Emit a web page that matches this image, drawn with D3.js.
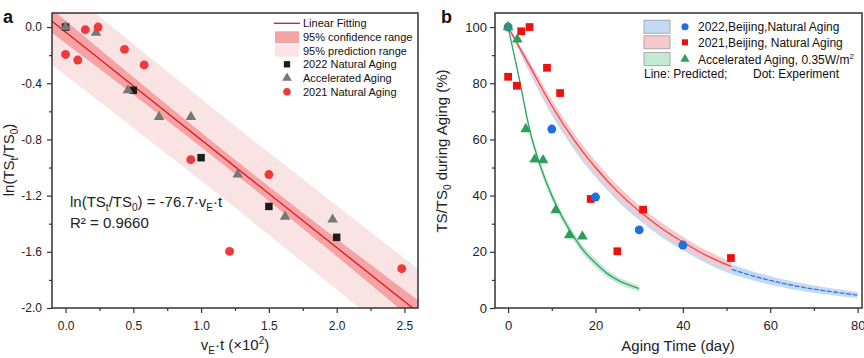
<!DOCTYPE html>
<html><head><meta charset="utf-8">
<script src="https://cdn.jsdelivr.net/npm/d3@7/dist/d3.min.js"></script>
<style>body{margin:0;background:#fff}svg{display:block;font-family:Arial,"Liberation Sans",sans-serif}</style>
</head><body><svg id="c" width="864" height="358"></svg>
<script>
// ---------- Panel a data ----------
const aXTicks = [0, 0.5, 1.0, 1.5, 2.0, 2.5];
const aXMinor = [0.25, 0.75, 1.25, 1.75, 2.25];
const aYTicks = [-2.0, -1.6, -1.2, -0.8, -0.4, 0.0];
const aYMinor = [-1.8, -1.4, -1.0, -0.6, -0.2];
const nat2022X = [0, 0.5, 1.0, 1.5, 2.0];
const nat2022Y = [0, -0.45, -0.93, -1.277, -1.497];
const accX = [0, 0.225, 0.46, 0.69, 0.925, 1.27, 1.62, 1.97];
const accY = [0, -0.04, -0.45, -0.64, -0.64, -1.05, -1.35, -1.37];
const nat2021X = [0, 0.09, 0.146, 0.24, 0.435, 0.58, 0.924, 1.21, 1.5, 2.48];
const nat2021Y = [-0.195, -0.235, -0.019, 0, -0.159, -0.27, -0.944, -1.597, -1.05, -1.72];
const fitX = [-0.1, 2.6];
const fitY = [0.042, -2.03];
const bandX = [-0.1, 0.4, 0.8, 1.25, 1.7, 2.1, 2.6];
const confHalf = [0.085, 0.065, 0.055, 0.05, 0.055, 0.065, 0.085];
const predHalf = [0.31, 0.3, 0.295, 0.29, 0.295, 0.3, 0.31];
const aLegend = ["Linear Fitting", "95% confidence range", "95% prediction range", "2022 Natural Aging", "Accelerated Aging", "2021 Natural Aging"];

// ---------- Panel b data ----------
const bXTicks = [0, 20, 40, 60, 80];
const bXMinor = [10, 30, 50, 70];
const bYTicks = [0, 20, 40, 60, 80, 100];
const bYMinor = [10, 30, 50, 70, 90];
const blueDotT = [0, 10, 20, 30, 40];
const blueDotV = [100, 63.7, 39.5, 27.8, 22.4];
const redDotT = [0, 2, 3, 4.9, 8.9, 11.9, 18.9, 25, 30.9, 51];
const redDotV = [82.3, 79.1, 98.5, 100, 85.5, 76.5, 38.8, 20.2, 35, 17.8];
const greenDotT = [0, 2.1, 4.05, 6.1, 8.0, 10.9, 14, 17];
const greenDotV = [100, 95.6, 63.7, 52.9, 52.6, 34.8, 25.9, 25.5];
const blueLineT = [0, 5, 10, 15, 20, 25, 30, 35, 40, 45, 50, 55, 60, 65, 70, 75, 80];
const blueLineV = [100, 85.5, 71.3, 59.3, 49.3, 40.8, 33.8, 27.8, 22.8, 18.3, 14.5, 11.9, 9.8, 8.1, 6.7, 5.6, 4.6];
const blueBand  = [0, 2, 2.6, 2.7, 2.7, 2.6, 2.5, 2.4, 2.2, 2, 1.8, 1.6, 1.5, 1.4, 1.3, 1.2, 1.1];
const redLineT = [0, 5, 10, 15, 20, 25, 30, 35, 40, 45, 51];
const redLineV = [100, 86, 72, 60, 50, 41.5, 34.5, 28.5, 23.5, 19, 14.8];
const redBand  = [0, 1.6, 2.1, 2.3, 2.3, 2.2, 2.1, 2, 1.9, 1.8, 1.7];
const greenLineT = [0, 2.5, 5, 7.5, 10, 12.5, 15, 17.5, 20, 22.5, 25, 27.5, 30];
const greenLineV = [100, 82, 63, 50, 40, 32, 25.5, 20, 16, 12.5, 10, 8.3, 6.9];
const greenBand  = [0, 1, 1.3, 1.5, 1.5, 1.5, 1.5, 1.5, 1.4, 1.3, 1.2, 1.1, 1];

const svg = d3.select("#c");
svg.append("rect").attr("width", 864).attr("height", 358).attr("fill", "#fff");
const axisCol = "#333";

function drawAxes(g, x, y, xt, xm, yt, ym, fmtX, fmtY, fs, padY) {
  const [x0, x1] = x.range(), [y0, y1] = y.range();
  g.append("g").attr("transform", `translate(0,${y0})`)
    .call(d3.axisBottom(x).tickValues(xm).tickSize(3).tickFormat(""))
    .call(s => s.select(".domain").remove());
  g.append("g").attr("transform", `translate(${x0},0)`)
    .call(d3.axisLeft(y).tickValues(ym).tickSize(3).tickFormat(""))
    .call(s => s.select(".domain").remove());
  const ax = g.append("g").attr("transform", `translate(0,${y0})`)
    .call(d3.axisBottom(x).tickValues(xt).tickSize(5).tickPadding(8).tickFormat(fmtX));
  const ay = g.append("g").attr("transform", `translate(${x0},0)`)
    .call(d3.axisLeft(y).tickValues(yt).tickSize(5).tickPadding(padY).tickFormat(fmtY));
  [ax, ay].forEach(a => {
    a.select(".domain").remove();
    a.selectAll("text").attr("font-size", fs).attr("fill", "#222").attr("font-family", "Arial, 'Liberation Sans', sans-serif");
  });
  g.selectAll(".tick line").attr("stroke", axisCol).attr("stroke-width", 1.2);
  g.append("rect").attr("x", x0).attr("y", y1).attr("width", x1 - x0).attr("height", y0 - y1)
    .attr("fill", "none").attr("stroke", axisCol).attr("stroke-width", 1.5);
}

// ================= Panel a =================
const xA = d3.scaleLinear().domain([-0.1, 2.6]).range([52, 418]);
const yA = d3.scaleLinear().domain([-2.0, 0.1]).range([308, 13]);
const fitAt = d3.scaleLinear().domain(fitX).range(fitY);
const gA = svg.append("g");
svg.append("clipPath").attr("id", "clipA").append("rect")
  .attr("x", 52).attr("y", 13).attr("width", 366).attr("height", 295);
const bandsA = gA.append("g").attr("clip-path", "url(#clipA)");
const idxA = d3.range(bandX.length);
bandsA.append("path")
  .attr("d", d3.area().curve(d3.curveMonotoneX)
    .x(i => xA(bandX[i])).y0(i => yA(fitAt(bandX[i]) - predHalf[i])).y1(i => yA(fitAt(bandX[i]) + predHalf[i]))(idxA))
  .attr("fill", "#f9e3e3");
bandsA.append("path")
  .attr("d", d3.area().curve(d3.curveMonotoneX)
    .x(i => xA(bandX[i])).y0(i => yA(fitAt(bandX[i]) - confHalf[i])).y1(i => yA(fitAt(bandX[i]) + confHalf[i]))(idxA))
  .attr("fill", "#f6a3a6");
bandsA.append("line")
  .attr("x1", xA(fitX[0])).attr("y1", yA(fitY[0]))
  .attr("x2", xA(fitX[1])).attr("y2", yA(fitY[1]))
  .attr("stroke", "#e0161e").attr("stroke-width", 1.3);

drawAxes(gA, xA, yA, aXTicks, aXMinor, aYTicks, aYMinor, d => d.toFixed(1), d => d.toFixed(1), 12, 5);

const sym = (type, size) => d3.symbol().type(type).size(size)();
gA.selectAll(".sq").data(d3.range(nat2022X.length)).join("path")
  .attr("transform", i => `translate(${xA(nat2022X[i])},${yA(nat2022Y[i])})`)
  .attr("d", sym(d3.symbolSquare, 56)).attr("fill", "#1c1c1c");
gA.selectAll(".tr").data(d3.range(accX.length)).join("path")
  .attr("transform", i => `translate(${xA(accX[i])},${yA(accY[i])})`)
  .attr("d", sym(d3.symbolTriangle, 48)).attr("fill", "#777");
gA.selectAll(".ci").data(d3.range(nat2021X.length)).join("path")
  .attr("transform", i => `translate(${xA(nat2021X[i])},${yA(nat2021Y[i])})`)
  .attr("d", sym(d3.symbolCircle, 62)).attr("fill", "#f0393b");

// legend a
const legA = gA.append("g").attr("font-size", 11).attr("fill", "#111");
const rowA = [23.3, 37.3, 50.7, 64.3, 78, 91.7];
legA.append("line").attr("x1", 274).attr("x2", 300).attr("y1", rowA[0]).attr("y2", rowA[0]).attr("stroke", "#e0161e").attr("stroke-width", 1.3);
legA.append("rect").attr("x", 275).attr("y", rowA[1] - 6).attr("width", 24).attr("height", 12).attr("fill", "#f6a3a6");
legA.append("rect").attr("x", 275).attr("y", rowA[2] - 6).attr("width", 24).attr("height", 12).attr("fill", "#f9e3e3");
legA.append("path").attr("transform", `translate(287,${rowA[3]})`).attr("d", sym(d3.symbolSquare, 40)).attr("fill", "#1c1c1c");
legA.append("path").attr("transform", `translate(287,${rowA[4]})`).attr("d", sym(d3.symbolTriangle, 40)).attr("fill", "#777");
legA.append("path").attr("transform", `translate(287,${rowA[5]})`).attr("d", sym(d3.symbolCircle, 45)).attr("fill", "#f0393b");
aLegend.forEach((t, i) => legA.append("text").attr("x", 303).attr("y", rowA[i] + 4).text(t));

// equation
const eq = gA.append("text").attr("x", 70).attr("y", 207).attr("font-size", 15).attr("fill", "#222");
eq.append("tspan").text("ln(TS");
eq.append("tspan").attr("font-size", 10).attr("dy", 4).text("t");
eq.append("tspan").attr("dy", -4).text("/TS");
eq.append("tspan").attr("font-size", 10).attr("dy", 4).text("0");
eq.append("tspan").attr("dy", -4).text(") = -76.7·v");
eq.append("tspan").attr("font-size", 10).attr("dy", 4).text("E");
eq.append("tspan").attr("dy", -4).text("·t");
gA.append("text").attr("x", 70).attr("y", 228).attr("font-size", 15).attr("fill", "#222").text("R² = 0.9660");

// axis titles a
const ylA = gA.append("text").attr("transform", "translate(14,160) rotate(-90)").attr("text-anchor", "middle").attr("font-size", 15).attr("fill", "#222");
ylA.append("tspan").text("ln(TS");
ylA.append("tspan").attr("font-size", 10).attr("dy", 4).text("t");
ylA.append("tspan").attr("dy", -4).text("/TS");
ylA.append("tspan").attr("font-size", 10).attr("dy", 4).text("0");
ylA.append("tspan").attr("dy", -4).text(")");
const xlA = gA.append("text").attr("x", 235).attr("y", 350).attr("text-anchor", "middle").attr("font-size", 15).attr("fill", "#222");
xlA.append("tspan").text("v");
xlA.append("tspan").attr("font-size", 10).attr("dy", 4).text("E");
xlA.append("tspan").attr("dy", -4).text("·t (×10");
xlA.append("tspan").attr("font-size", 10).attr("dy", -6).text("2");
xlA.append("tspan").attr("dy", 6).text(")");
svg.append("text").attr("x", 3).attr("y", 23).attr("font-size", 18).attr("font-weight", "bold").attr("fill", "#111").text("a");

// ================= Panel b =================
const xB = d3.scaleLinear().domain([-3, 81]).range([495, 862]);
const yB = d3.scaleLinear().domain([0, 105]).range([308, 13]);
const gB = svg.append("g");
const series = [
  {t: blueLineT, v: blueLineV, h: blueBand, band: "#c3daf6", line: "#3a78d8", dash: "5,1.5"},
  {t: redLineT, v: redLineV, h: redBand, band: "#f6c9cd", line: "#e8484c", dash: null},
  {t: greenLineT, v: greenLineV, h: greenBand, band: "#c4ead3", line: "#34a462", dash: null}
];
series.forEach(s => {
  const idx = d3.range(s.t.length);
  gB.append("path").attr("d", d3.area().curve(d3.curveMonotoneX)
      .x(i => xB(s.t[i])).y0(i => yB(s.v[i] - s.h[i])).y1(i => yB(s.v[i] + s.h[i]))(idx))
    .attr("fill", s.band);
  gB.append("path").attr("d", d3.line().curve(d3.curveMonotoneX).x(i => xB(s.t[i])).y(i => yB(s.v[i]))(idx))
    .attr("fill", "none").attr("stroke", s.line).attr("stroke-width", 1.3)
    .attr("stroke-dasharray", s.dash);
});

drawAxes(gB, xB, yB, bXTicks, bXMinor, bYTicks, bYMinor, d => d, d => d, 13, 3);

gB.selectAll(".rs").data(d3.range(redDotT.length)).join("path")
  .attr("transform", i => `translate(${xB(redDotT[i])},${yB(redDotV[i])})`)
  .attr("d", sym(d3.symbolSquare, 60)).attr("fill", "#ee0f0f");
gB.selectAll(".bc").data(d3.range(blueDotT.length)).join("path")
  .attr("transform", i => `translate(${xB(blueDotT[i])},${yB(blueDotV[i])})`)
  .attr("d", sym(d3.symbolCircle, 62)).attr("fill", "#1f6fdc");
gB.selectAll(".gt").data(d3.range(greenDotT.length)).join("path")
  .attr("transform", i => `translate(${xB(greenDotT[i])},${yB(greenDotV[i])})`)
  .attr("d", sym(d3.symbolTriangle, 50)).attr("fill", "#2e9e5a");

// legend b
const legB = gB.append("g").attr("font-size", 12).attr("fill", "#111");
const rowB = [26.7, 42.3, 59];
const legBSw = ["#c3daf6", "#f6c9cd", "#c4ead3"];
const legBText = ["2022,Beijing,Natural Aging", "2021,Beijing, Natural Aging", "Accelerated Aging, 0.35W/m"];
rowB.forEach((r, i) => {
  legB.append("rect").attr("x", 644).attr("y", r - 6.5).attr("width", 26).attr("height", 13)
    .attr("fill", legBSw[i]).attr("stroke", "#9a9a9a").attr("stroke-width", 0.8);
  const t = legB.append("text").attr("x", 698).attr("y", r + 4.5).text(legBText[i]);
  if (i === 2) t.append("tspan").attr("font-size", 8).attr("dy", -5).text("2");
});
legB.append("path").attr("transform", `translate(685,${rowB[0]})`).attr("d", sym(d3.symbolCircle, 40)).attr("fill", "#1f6fdc");
legB.append("path").attr("transform", `translate(685,${rowB[1]})`).attr("d", sym(d3.symbolSquare, 36)).attr("fill", "#ee0f0f");
legB.append("path").attr("transform", `translate(685,${rowB[2]})`).attr("d", sym(d3.symbolTriangle, 36)).attr("fill", "#2e9e5a");
legB.append("text").attr("x", 644).attr("y", 77.5).text("Line: Predicted;");
legB.append("text").attr("x", 753).attr("y", 77.5).text("Dot: Experiment");

// axis titles b
const ylB = gB.append("text").attr("transform", "translate(447,151) rotate(-90)").attr("text-anchor", "middle").attr("font-size", 15).attr("fill", "#222");
ylB.append("tspan").text("TS/TS");
ylB.append("tspan").attr("font-size", 10).attr("dy", 4).text("0");
ylB.append("tspan").attr("dy", -4).text(" during Aging (%)");
gB.append("text").attr("x", 678).attr("y", 351).attr("text-anchor", "middle").attr("font-size", 15).attr("fill", "#222").text("Aging Time (day)");
svg.append("text").attr("x", 441).attr("y", 23).attr("font-size", 18).attr("font-weight", "bold").attr("fill", "#111").text("b");
</script></body></html>
